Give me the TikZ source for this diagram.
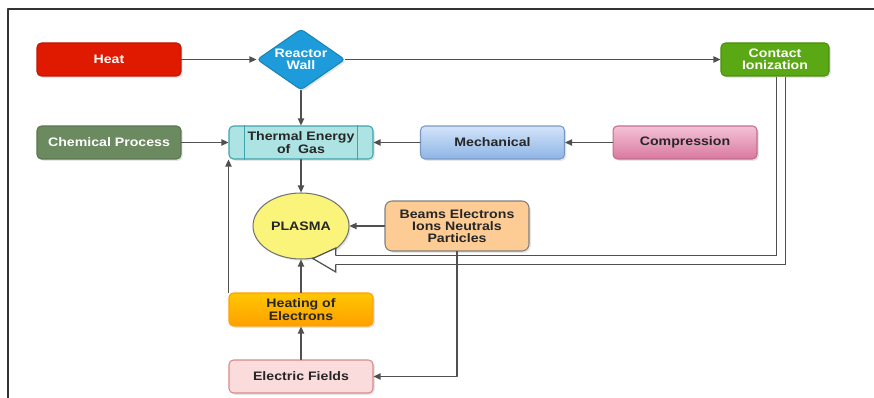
\documentclass[tikz,border=0pt]{standalone}
\usepackage{fontspec}
\setmainfont{Liberation Sans}
\newfontfamily\boxfont[FakeStretch=1.15]{Liberation Sans}
\usetikzlibrary{shapes.geometric,arrows.meta,shadows,calc}
\definecolor{linegray}{HTML}{505050}
\definecolor{heatred}{HTML}{E01A00}
\definecolor{wallblue}{HTML}{1E9BDB}
\definecolor{cigreen}{HTML}{5AA813}
\definecolor{chemgreen}{HTML}{6B8A5F}
\definecolor{thermcyan}{HTML}{AEE3E3}
\definecolor{thermedge}{HTML}{3AA5AD}
\definecolor{mechtop}{HTML}{D2E4F9}
\definecolor{mechbot}{HTML}{8EB4E6}
\definecolor{comptop}{HTML}{F4C2D7}
\definecolor{compbot}{HTML}{D9799F}
\definecolor{plasmayel}{HTML}{FAF57A}
\definecolor{beamspeach}{HTML}{FDCB94}
\definecolor{heattop}{HTML}{FFC600}
\definecolor{heatbot}{HTML}{FFA000}
\definecolor{efpink}{HTML}{FADCDC}
\definecolor{efedge}{HTML}{D88A8A}
\begin{document}
\begin{tikzpicture}[x=0.02cm,y=-0.02cm,line join=round,line cap=round,>={Triangle[length=4pt,width=3.6pt]},font=\boxfont\bfseries\fontsize{7}{7}\selectfont]
	\tikzset{box/.style={rectangle,rounded corners=2.5pt,minimum width=2.88cm,minimum height=0.66cm,align=center,inner sep=1pt,line width=0.6pt,text=black!85,drop shadow={shadow xshift=1pt,shadow yshift=-1pt,opacity=0.2}},
		conn/.style={->,draw=linegray,line width=0.7pt},
		dbl/.style={draw=linegray,line width=0.7pt,double=white,double distance=4.4pt,line cap=butt,line join=miter}}
	\useasboundingbox (0,0) rectangle (874,398);
	\draw[line width=0.8pt,black!80] (8,398)--(8,9)--(874,9);
	% top row
	\node[box,fill=heatred,draw=heatred!85!black,text=white] (heat) at (109,59.5) {Heat};
	\node[diamond,aspect=1.44,inner sep=0pt,minimum width=1.76cm,minimum height=1.22cm,align=center,rounded corners=2pt,line width=0.6pt,fill=wallblue,draw=wallblue!85!black,text=white,drop shadow={shadow xshift=1pt,shadow yshift=-1pt,opacity=0.2}] (wall) at (301,59.5) {Reactor\\Wall};
	\node[box,minimum width=2.16cm,fill=cigreen,draw=cigreen!85!black,text=white] (ci) at (775,59.5) {Contact\\Ionization};
	% middle row
	\node[box,fill=chemgreen,draw=chemgreen!85!black,text=white] (chem) at (109,142.5) {Chemical Process};
	\node[box,fill=thermcyan,draw=thermedge] (therm) at (301,142.5) {Thermal Energy\\of~~Gas};
	\draw[thermedge,line width=0.6pt] ($(therm.north west)+(16,0)$)--($(therm.south west)+(16,0)$);
	\draw[thermedge,line width=0.6pt] ($(therm.north east)+(-16,0)$)--($(therm.south east)+(-16,0)$);
	\node[box,top color=mechtop,bottom color=mechbot,draw=mechbot!85!black] (mech) at (492.5,142.5) {Mechanical};
	\node[box,top color=comptop,bottom color=compbot,draw=compbot!90!black] (comp) at (685,142.5) {Compression};
	% plasma and sources
	\node[ellipse,minimum width=1.92cm,minimum height=1.32cm,inner sep=0pt,fill=plasmayel,draw=black!55,line width=0.6pt,text=black!85,drop shadow={shadow xshift=1pt,shadow yshift=-1pt,opacity=0.2}] (plasma) at (301,226) {PLASMA};
	\node[box,minimum height=1.0cm,rounded corners=4pt,fill=beamspeach,draw=black!50] (beams) at (457,226) {Beams Electrons\\Ions Neutrals\\Particles};
	\node[box,top color=heattop,bottom color=heatbot,draw=heatbot] (heating) at (301,309.5) {Heating of\\Electrons};
	\node[box,fill=efpink,draw=efedge] (ef) at (301,376.5) {Electric Fields};
	% connectors
	\draw[conn] (heat.east)--(wall.west);
	\draw[conn] (wall.east)--(ci.west);
	\draw[conn] (wall.south)--(therm.north);
	\draw[conn] (chem.east)--(therm.west);
	\draw[conn] (mech.west)--(therm.east);
	\draw[conn] (comp.west)--(mech.east);
	\draw[conn] (therm.south)--(plasma.north);
	\draw[conn] (beams.west)--(plasma.east);
	\draw[conn] (heating.north)--(plasma.south);
	\draw[conn] (ef.north)--(heating.south);
	\draw[conn] (heating.north west)--(therm.south west);
	% contact ionization feeds plasma
	\coordinate (tip) at (plasma.-70);
	\coordinate (tipbase) at ($(tip)+(23,1.5)$);
	\draw[dbl] ($(ci.south)+(6,0)$) |- (tipbase);
	\fill[white] ($(tipbase)+(0,-12)$)--(tip)--($(tipbase)+(0,12)$)--cycle;
	\draw[linegray,line width=0.7pt,line join=miter] ($(tipbase)+(0,-4.6)$)--($(tipbase)+(0,-12)$)--(tip)--($(tipbase)+(0,12)$)--($(tipbase)+(0,4.6)$);
	\draw[conn] (beams.south) |- (ef.east);
\end{tikzpicture}
\end{document}
